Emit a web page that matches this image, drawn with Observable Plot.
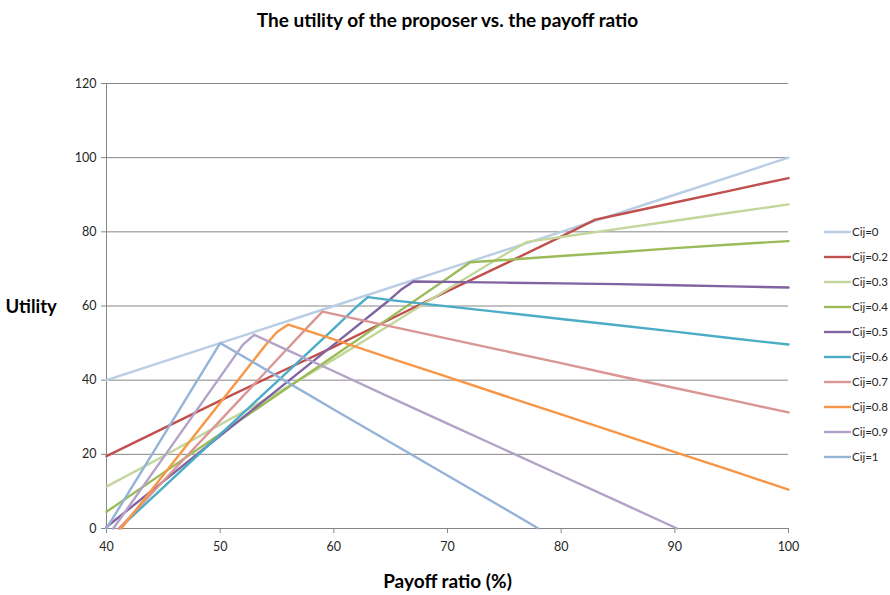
<!DOCTYPE html>
<html>
<head>
<meta charset="utf-8">
<script src="https://cdn.jsdelivr.net/npm/d3@7"></script>
<script src="https://cdn.jsdelivr.net/npm/@observablehq/plot@0.6"></script>
<style>
  html, body { margin: 0; padding: 0; background: #fff; overflow: hidden; }
  #chart svg { display: block; }
</style>
</head>
<body>
<div id="chart"></div>
<script>
// Utility of the proposer for each Cij, as [payoff ratio (%), utility] pairs
const cij0   = [[40,40],[50,50],[60,60],[70,70],[80,80],[90,90],[100,100]];
const cij02  = [[40,19.5],[45,27],[50,34.5],[55,41.8],[60,49],[65,56.5],[70,64],[75,71.3],[80,78.7],[83,83.3],[85,84.6],[90,87.9],[95,91.2],[100,94.5]];
const cij03  = [[40,11.3],[45,19.5],[50,28],[55,36.5],[60,45.6],[65,55],[70,64.5],[75,73.8],[77,77.3],[80,78.6],[85,80.8],[90,83],[95,85.2],[100,87.4]];
const cij04  = [[40,4.5],[45,15],[50,25.5],[55,36],[60,46.5],[65,57],[70,67.5],[72,71.8],[75,72.4],[80,73.5],[85,74.5],[90,75.6],[95,76.6],[100,77.5]];
const cij05  = [[40,0.4],[45,12.7],[50,25],[55,37.3],[60,49.6],[65,61.9],[66,64.6],[67,66.6],[70,66.5],[75,66.3],[80,66.1],[85,65.9],[90,65.6],[95,65.3],[100,65]];
const cij06  = [[41.1,0],[45,11.1],[50,25.4],[55,39.6],[60,53.9],[62,59.8],[63,62.4],[65,61.6],[70,59.9],[75,58.2],[80,56.5],[85,54.8],[90,53.1],[95,51.3],[100,49.6]];
const cij07  = [[41.1,0],[45,12.8],[50,29.1],[55,45.5],[58,55.3],[59,58.5],[60,57.8],[65,54.5],[70,51.2],[75,47.9],[80,44.6],[85,41.2],[90,37.9],[95,34.6],[100,31.3]];
const cij08  = [[41.3,0],[45,14.4],[50,33.9],[53,45.6],[54,49.5],[55,53],[56,55],[60,51],[65,45.9],[70,40.9],[75,35.8],[80,30.8],[85,25.7],[90,20.6],[95,15.6],[100,10.5]];
const cij09  = [[40.6,0],[45,19.1],[50,40.9],[52,49.6],[53,52.2],[55,49.4],[60,42.4],[65,35.3],[70,28.3],[75,21.3],[80,14.3],[85,7.3],[90.2,0]];
const cij1   = [[40,0],[45,25],[50,50],[55,41.1],[60,32.1],[65,23.2],[70,14.3],[75,5.4],[78,0]];

const seriesLabels = ["Cij=0","Cij=0.2","Cij=0.3","Cij=0.4","Cij=0.5","Cij=0.6","Cij=0.7","Cij=0.8","Cij=0.9","Cij=1"];
const seriesPoints = [cij0, cij02, cij03, cij04, cij05, cij06, cij07, cij08, cij09, cij1];
const seriesColors = ["#B9CDE5","#C0504D","#C3D69B","#9BBB59","#8064A2","#4BACC6","#D99694","#F79646","#B3A2C7","#95B3D7"];

const xTicks = [40, 50, 60, 70, 80, 90, 100];
const yTicks = [0, 20, 40, 60, 80, 100, 120];

const titleText = "The utility of the proposer vs. the payoff ratio";
const xLabel = "Payoff ratio (%)";
const yLabel = "Utility";

// Long table for Plot
const rows = seriesLabels.flatMap((label, i) =>
  seriesPoints[i].map(([ratio, utility]) => ({label, ratio, utility}))
);

const font = 'Lato, "Liberation Sans", Arial, sans-serif';
const grid = "#868686";

const chart = Plot.plot({
  width: 890,
  height: 595,
  marginTop: 83,
  marginRight: 102,
  marginBottom: 67,
  marginLeft: 106,
  style: {fontFamily: font, background: "#fff", overflow: "hidden"},
  x: {domain: [40, 100]},
  y: {domain: [0, 120]},
  color: {domain: seriesLabels, range: seriesColors},
  marks: [
    Plot.gridY(yTicks, {stroke: grid, strokeOpacity: 1, strokeWidth: 1}),
    Plot.ruleX([40], {stroke: grid, strokeWidth: 1}),
    Plot.ruleY([0], {stroke: grid, strokeWidth: 1}),
    Plot.axisX(xTicks, {
      tickSize: 5, tickPadding: 9, stroke: grid, fill: "#262626",
      fontSize: 12.5, label: null, tickFormat: d => String(d)
    }),
    Plot.axisY(yTicks, {
      tickSize: 5, tickPadding: 5, stroke: grid, fill: "#262626",
      fontSize: 12.5, label: null, tickFormat: d => String(d)
    }),
    Plot.line(rows, {
      x: "ratio", y: "utility", z: "label", stroke: "label",
      strokeWidth: 2.4, strokeLinejoin: "round", strokeLinecap: "round"
    }),
    Plot.text([titleText], {
      frameAnchor: "top", dy: -63, lineAnchor: "middle", text: d => d,
      fontSize: 19, fontWeight: "bold", fill: "#000"
    }),
    Plot.text([xLabel], {
      frameAnchor: "bottom", dy: 53, lineAnchor: "middle", text: d => d,
      fontSize: 19, fontWeight: "bold", fill: "#000"
    }),
    Plot.text([yLabel], {
      frameAnchor: "left", dx: -101, dy: 1, textAnchor: "start", text: d => d,
      fontSize: 18.5, fontWeight: "bold", fill: "#000"
    })
  ]
});

// Legend down the right-hand side
const svg = d3.select(chart);
const legend = svg.append("g")
  .attr("font-family", font)
  .attr("font-size", 11.5)
  .attr("text-anchor", "start");
seriesLabels.forEach((label, i) => {
  const y = 232 + i * 25;
  legend.append("line")
    .attr("x1", 824).attr("x2", 851)
    .attr("y1", y).attr("y2", y)
    .attr("stroke", seriesColors[i])
    .attr("stroke-width", 2.4);
  legend.append("text")
    .attr("x", 852).attr("y", y)
    .attr("dy", "0.35em")
    .attr("fill", "#262626")
    .text(label);
});

document.getElementById("chart").appendChild(chart);
</script>
</body>
</html>
